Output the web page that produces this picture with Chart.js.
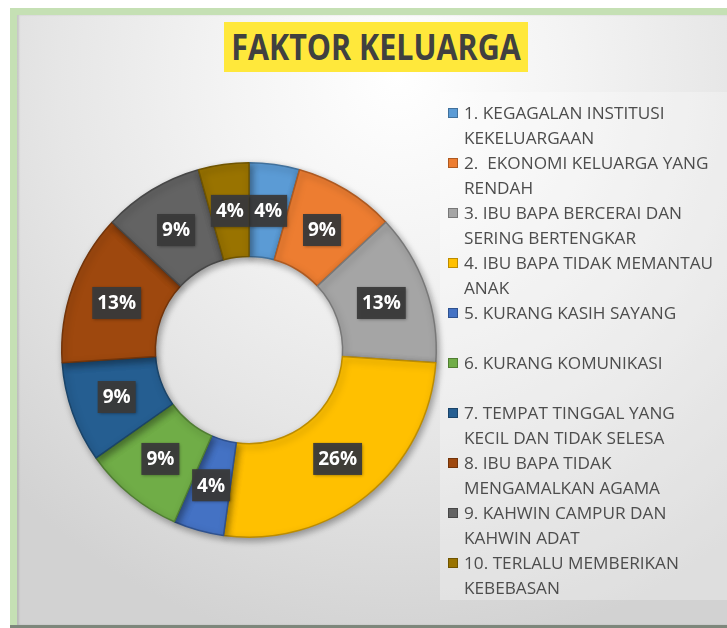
<!DOCTYPE html>
<html>
<head>
<meta charset="utf-8">
<title>Faktor Keluarga</title>
<script src="https://cdn.jsdelivr.net/npm/chart.js@4.4.1/dist/chart.umd.min.js"></script>
<style>
  html, body {
    margin: 0;
    padding: 0;
    width: 727px;
    height: 628px;
    overflow: hidden;
    background: #ffffff;
    font-family: 'Open Sans', sans-serif;
  }
  .frame {
    position: absolute;
    left: 10px;
    top: 8px;
    width: 740px;
    height: 620px;
    background: #c5e0b4;
  }
  .panel {
    position: absolute;
    left: 7px;
    top: 7px;
    right: 0;
    bottom: 3px;
    background: radial-gradient(ellipse 75% 95% at 52% 10%, #ffffff 0%, #f4f4f4 30%, #e6e6e6 62%, #d2d2d2 100%);
    box-shadow: inset 2px 0 2px rgba(0, 0, 0, 0.12);
  }
  .bottom-line {
    position: absolute;
    left: 10px;
    top: 625px;
    width: 740px;
    height: 3px;
    background: #7d877b;
  }
  .legend-bg {
    position: absolute;
    left: 440px;
    top: 92px;
    width: 300px;
    height: 508px;
    background: rgba(255, 255, 255, 0.28);
  }
  .title {
    position: absolute;
    left: 224px;
    top: 22px;
    width: 304px;
    height: 50px;
    background: #ffe83b;
  }
  .title span {
    position: absolute;
    left: 50%;
    top: 0;
    color: #404040;
    font-weight: bold;
    font-size: 35px;
    line-height: 50px;
    white-space: nowrap;
    transform: translateX(-50%) scaleX(0.87);
  }
  canvas {
    position: absolute;
    left: 0;
    top: 0;
  }
  #legend {
    position: absolute;
    left: 446px;
    top: 100px;
    width: 290px;
    color: #4d4d4d;
    font-size: 17.2px;
    line-height: 25px;
  }
  #legend .item {
    position: relative;
    height: 50px;
    padding-left: 18px;
    white-space: pre;
  }
  #legend .box {
    position: absolute;
    left: 2px;
    top: 8px;
    width: 8px;
    height: 8px;
    border: 1px solid;
  }
</style>
</head>
<body>
<div class="frame"><div class="panel"></div></div>
<div class="bottom-line"></div>
<div class="legend-bg"></div>
<div class="title"><span>FAKTOR KELUARGA</span></div>
<canvas id="faktorChart" width="727" height="628"></canvas>
<div id="legend"></div>

<script>
// categories (legend lines as wrapped in the original)
const categoryLines = [
  ['1. KEGAGALAN INSTITUSI', 'KEKELUARGAAN'],
  ['2.  EKONOMI KELUARGA YANG', 'RENDAH'],
  ['3. IBU BAPA BERCERAI DAN', 'SERING BERTENGKAR'],
  ['4. IBU BAPA TIDAK MEMANTAU', 'ANAK'],
  ['5. KURANG KASIH SAYANG'],
  ['6. KURANG KOMUNIKASI'],
  ['7. TEMPAT TINGGAL YANG', 'KECIL DAN TIDAK SELESA'],
  ['8. IBU BAPA TIDAK', 'MENGAMALKAN AGAMA'],
  ['9. KAHWIN CAMPUR DAN', 'KAHWIN ADAT'],
  ['10. TERLALU MEMBERIKAN', 'KEBEBASAN']
];

// number of responses per factor
const counts = [1, 2, 3, 6, 1, 2, 2, 3, 2, 1];

const sliceColors = ['#5b9bd5', '#ed7d31', '#a5a5a5', '#ffc000', '#4472c4', '#70ad47', '#255e91', '#9e480e', '#636363', '#997300'];
const edgeColors = ['#41719c', '#ae5a21', '#787878', '#bc8c00', '#2f528f', '#507e32', '#1a4469', '#72340a', '#474747', '#6f5400'];

document.addEventListener('DOMContentLoaded', function() {
  const total = counts.reduce((a, b) => a + b, 0);

  // drop shadow under the ring
  const ringShadow = {
    id: 'ringShadow',
    beforeDatasetsDraw(chart) {
      const ctx = chart.ctx;
      ctx.save();
      ctx.shadowColor = 'rgba(0, 0, 0, 0.35)';
      ctx.shadowBlur = 7;
      ctx.shadowOffsetX = 2;
      ctx.shadowOffsetY = 3;
    },
    afterDatasetsDraw(chart) {
      chart.ctx.restore();
    }
  };

  // dark boxes with percentage in the middle of each slice
  const percentLabels = {
    id: 'percentLabels',
    afterDatasetsDraw(chart) {
      const ctx = chart.ctx;
      const meta = chart.getDatasetMeta(0);
      ctx.save();
      ctx.font = 'bold 19px "Open Sans"';
      ctx.textAlign = 'center';
      ctx.textBaseline = 'middle';
      meta.data.forEach((arc, i) => {
        const pos = arc.tooltipPosition();
        const text = Math.round(counts[i] / total * 100) + '%';
        const w = ctx.measureText(text).width + 10;
        const h = 32;
        ctx.shadowColor = 'rgba(0, 0, 0, 0.4)';
        ctx.shadowBlur = 3;
        ctx.shadowOffsetX = 1;
        ctx.shadowOffsetY = 1;
        ctx.fillStyle = 'rgba(58, 58, 58, 0.95)';
        ctx.fillRect(pos.x - w / 2, pos.y - h / 2, w, h);
        ctx.shadowColor = 'transparent';
        ctx.fillStyle = '#ffffff';
        ctx.fillText(text, pos.x, pos.y + 1);
      });
      ctx.restore();
    }
  };

  const chart = new Chart(document.getElementById('faktorChart'), {
    type: 'doughnut',
    data: {
      labels: categoryLines.map(l => l.join(' ')),
      datasets: [{
        data: counts,
        backgroundColor: sliceColors,
        borderColor: edgeColors,
        borderWidth: 1.5
      }]
    },
    options: {
      responsive: false,
      animation: false,
      cutout: '50%',
      layout: {
        padding: { left: 61, top: 162, right: 290, bottom: 90 }
      },
      plugins: {
        legend: { display: false },
        tooltip: { enabled: false }
      }
    },
    plugins: [ringShadow, percentLabels]
  });

  // legend built from the chart's labels
  const legend = document.getElementById('legend');
  chart.data.labels.forEach((label, i) => {
    const item = document.createElement('div');
    item.className = 'item';
    const box = document.createElement('span');
    box.className = 'box';
    box.style.background = sliceColors[i];
    box.style.borderColor = edgeColors[i];
    item.appendChild(box);
    item.appendChild(document.createTextNode(categoryLines[i].join('\n')));
    legend.appendChild(item);
  });
});
</script>
</body>
</html>
